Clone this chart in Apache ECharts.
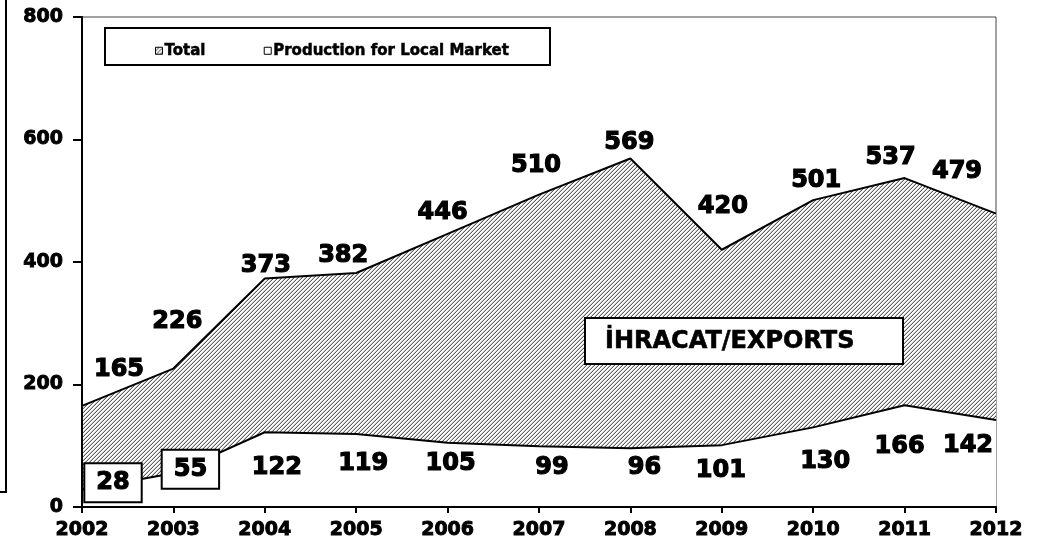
<!DOCTYPE html>
<html>
<head>
<meta charset="utf-8">
<script src="https://cdn.jsdelivr.net/npm/echarts@6/dist/echarts.min.js"></script>
<style>
html,body{margin:0;padding:0;background:#fff;}
#chart{width:1045px;height:549px;}
</style>
</head>
<body>
<div id="chart"></div>
<script>
// ---- data ----
const years = ['2002','2003','2004','2005','2006','2007','2008','2009','2010','2011','2012'];
const totalValues = [165, 226, 373, 382, 446, 510, 569, 420, 501, 537, 479];
const localValues = [28, 55, 122, 119, 105, 99, 96, 101, 130, 166, 142];
const yTicks = [0, 200, 400, 600, 800];
const seriesNames = ['Total', 'Production for Local Market'];
const exportsLabel = 'İHRACAT/EXPORTS';

// ---- label placement (style only) ----
const totalOffsets = [[37,-36],[4,-47],[1,-13],[-13,-17],[-5,-21],[-3,-29],[-1,-16],[1,-43],[3,-19],[-14,-20],[-39,-42]];
const localOffsets = [[31,-7],[17,-4],[12,35],[7,30],[3,21],[13,21],[14,20],[-1,26],[12,34],[-5,41],[-28,26]];
const boxedLocal = [0, 1];

// hatch pattern
function makeHatch() {
  const c = document.createElement('canvas');
  c.width = 4; c.height = 4;
  const ctx = c.getContext('2d');
  const img = ctx.createImageData(4, 4);
  for (let y = 0; y < 4; y++) {
    for (let x = 0; x < 4; x++) {
      const d = (x + y) % 4;
      let v = 255;
      if (d === 3) v = 95;
      else if (d === 2) v = 200;
      const i = (y * 4 + x) * 4;
      img.data[i] = v; img.data[i+1] = v; img.data[i+2] = v; img.data[i+3] = 255;
    }
  }
  ctx.putImageData(img, 0, 0);
  return c;
}
const hatch = { image: makeHatch(), repeat: 'repeat' };

const FONT = '"DejaVu Sans", Verdana, sans-serif';

const bigLabel = {
  show: true, position: 'inside', align: 'center', verticalAlign: 'middle',
  fontFamily: FONT, fontWeight: 'bold', fontSize: 24, color: '#000',
  textBorderColor: '#000', textBorderWidth: 1.2
};

const totalData = totalValues.map((v, i) => ({
  value: v,
  label: Object.assign({}, bigLabel, { offset: totalOffsets[i] })
}));
const localData = localValues.map((v, i) => {
  const lab = Object.assign({}, bigLabel, { offset: localOffsets[i] });
  if (boxedLocal.indexOf(i) >= 0) {
    Object.assign(lab, { backgroundColor: '#fff', borderColor: '#000', borderWidth: 2, padding: [7, 11, 6, 11] });
  }
  return { value: v, label: lab };
});

const axisText = { fontFamily: FONT, fontWeight: 'bold', fontSize: 19, color: '#000', textBorderColor: '#000', textBorderWidth: 0.9 };

const chart = echarts.init(document.getElementById('chart'), null, { renderer: 'canvas' });
chart.setOption({
  animation: false,
  backgroundColor: '#fff',
  grid: { left: 82, right: 49, top: 17, bottom: 42, show: true, borderColor: '#444', borderWidth: 1, backgroundColor: 'transparent' },
  xAxis: {
    type: 'category', data: years, boundaryGap: false, z: 10,
    axisLine: { lineStyle: { color: '#000', width: 2 } },
    axisTick: { show: true, length: 6, lineStyle: { color: '#000', width: 2 } },
    axisLabel: Object.assign({ margin: 14 }, axisText),
    splitLine: { show: false }
  },
  yAxis: {
    type: 'value', min: yTicks[0], max: yTicks[yTicks.length - 1], interval: yTicks[1] - yTicks[0], z: 10,
    axisLine: { show: true, lineStyle: { color: '#000', width: 2 } },
    axisTick: { show: true, length: 9, lineStyle: { color: '#000', width: 2 } },
    axisLabel: Object.assign({ margin: 19 }, axisText),
    splitLine: { show: false }
  },
  legend: {
    left: 150, top: 38,
    itemWidth: 7, itemHeight: 7, itemGap: 58,
    icon: 'rect',
    textStyle: { fontFamily: FONT, fontWeight: 'bold', fontSize: 15, color: '#000', textBorderColor: '#000', textBorderWidth: 0.5, padding: [0,0,0,-3] },
    data: [
      { name: seriesNames[0], itemStyle: { color: hatch, borderColor: '#000', borderWidth: 1 } },
      { name: seriesNames[1], itemStyle: { color: '#fff', borderColor: '#000', borderWidth: 1 } }
    ],
    z: 10
  },
  graphic: [
    { type: 'rect', shape: { x: 105, y: 28, width: 445, height: 37 }, style: { fill: '#fff', stroke: '#000', lineWidth: 2 }, z: 1 },
    { type: 'line', shape: { x1: 6, y1: 0, x2: 6, y2: 492 }, style: { stroke: '#000', lineWidth: 2 } },
    { type: 'line', shape: { x1: 0, y1: 492, x2: 7, y2: 492 }, style: { stroke: '#000', lineWidth: 2 } },
    { type: 'rect', shape: { x: 585, y: 318, width: 318, height: 46 }, style: { fill: '#fff', stroke: '#000', lineWidth: 2 }, z: 20 },
    { type: 'text', x: 605, y: 342, style: { text: exportsLabel, fill: '#000', font: 'bold 24px ' + FONT, textVerticalAlign: 'middle', stroke: '#000', lineWidth: 0.6 }, z: 21 }
  ],
  series: [
    {
      name: seriesNames[0], type: 'line', data: totalData, z: 2,
      symbol: 'circle', symbolSize: 0.1, showSymbol: true,
      itemStyle: { color: '#000' },
      lineStyle: { color: '#000', width: 2 },
      areaStyle: { color: hatch, opacity: 1 },
      emphasis: { disabled: true }
    },
    {
      name: seriesNames[1], type: 'line', data: localData, z: 3,
      symbol: 'circle', symbolSize: 0.1, showSymbol: true,
      itemStyle: { color: '#fff' },
      lineStyle: { color: '#000', width: 2 },
      areaStyle: { color: '#fff', opacity: 1 },
      emphasis: { disabled: true }
    }
  ]
});
</script>
</body>
</html>
